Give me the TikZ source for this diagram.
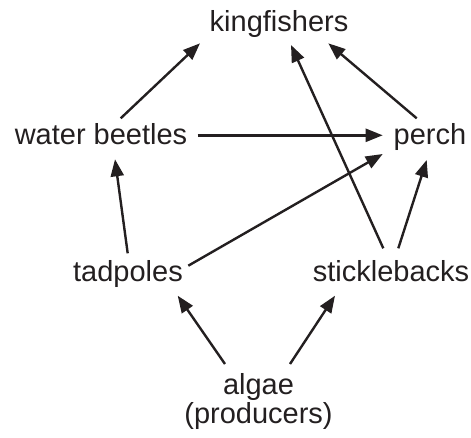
\documentclass[tikz,border=0pt]{standalone}
\usepackage{fontspec}
\setmainfont{Liberation Sans}
\usetikzlibrary{arrows.meta}
\definecolor{ink}{HTML}{231F20}
\begin{document}
\begin{tikzpicture}[x=1pt,y=-1pt,
  lbl/.style={anchor=base,inner sep=0pt,text=ink,font=\fontsize{29}{29.5}\selectfont,align=center},
  link/.style={draw=ink,line width=2.4pt,-{Triangle[length=17pt,width=13pt]}}]
\useasboundingbox (0,0) rectangle (471,437);
\node[lbl] (king) at (279,31.7) {kingfishers};
\node[lbl] (wb) at (101,144) {water beetles};
\node[lbl] (perch) at (430,144) {perch};
\node[lbl] (tad) at (128,281.7) {tadpoles};
\node[lbl] (stick) at (391,281.7) {sticklebacks};
\node[lbl] (algae) at (258.5,423.5) {algae\\(producers)};
% connector ends
\coordinate (wbk1) at (120.7,118.3); \coordinate (wbk2) at (200,43.3);
\coordinate (pk1) at (416.7,118.3);  \coordinate (pk2) at (328.3,43.3);
\coordinate (sk1) at (383.3,248.3);  \coordinate (sk2) at (291,45);
\coordinate (wbp1) at (197.7,135.3); \coordinate (wbp2) at (382.7,135.3);
\coordinate (tw1) at (127.7,253.3);  \coordinate (tw2) at (115,159.3);
\coordinate (tp1) at (188.3,265.7);  \coordinate (tp2) at (382.7,154);
\coordinate (sp1) at (398.3,248.3);  \coordinate (sp2) at (426.7,160);
\coordinate (at1) at (225,364);      \coordinate (at2) at (177.7,295.7);
\coordinate (as1) at (290,364);      \coordinate (as2) at (335,295.7);
\draw[link] (wbk1) -- (wbk2);
\draw[link] (pk1) -- (pk2);
\draw[link] (sk1) -- (sk2);
\draw[link] (wbp1) -- (wbp2);
\draw[link] (tw1) -- (tw2);
\draw[link] (tp1) -- (tp2);
\draw[link] (sp1) -- (sp2);
\draw[link] (at1) -- (at2);
\draw[link] (as1) -- (as2);
\end{tikzpicture}
\end{document}
